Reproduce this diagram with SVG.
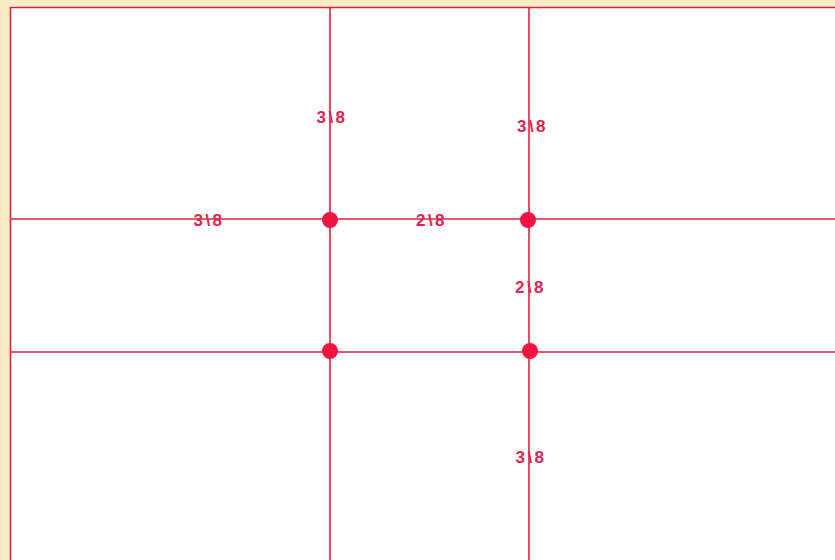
<svg xmlns="http://www.w3.org/2000/svg" width="835" height="560" viewBox="0 0 835 560">
<style>
.ln{stroke:#e3203a;stroke-width:1.6;fill:none}
.dot{fill:#ee1543}
.lb{font-family:"Liberation Sans",Arial,sans-serif;font-size:17px;font-weight:bold;fill:#e0244f;text-anchor:middle;letter-spacing:2.5px}
</style>
<rect x="0" y="0" width="835" height="560" fill="#fcecc6"/>
<rect x="10" y="7" width="830" height="560" fill="#ffffff"/>
<g id="connectors">
<path class="ln" d="M10.5 560 V7.5 H835"/>
<path class="ln" d="M330 7 V560"/>
<path class="ln" d="M529 7 V560"/>
<path class="ln" d="M10 219 H835"/>
<path class="ln" d="M10 352 H835"/>
</g>
<g id="p1"><circle class="dot" cx="330" cy="220" r="8"/></g>
<g id="p2"><circle class="dot" cx="528" cy="220" r="8"/></g>
<g id="p3"><circle class="dot" cx="330" cy="351" r="8"/></g>
<g id="p4"><circle class="dot" cx="530" cy="351" r="8"/></g>
<g id="labels">
<text class="lb" x="332" y="123">3\8</text>
<text class="lb" x="532.5" y="132">3\8</text>
<text class="lb" x="209" y="226">3\8</text>
<text class="lb" x="431.5" y="226">2\8</text>
<text class="lb" x="530.5" y="293">2\8</text>
<text class="lb" x="531" y="463">3\8</text>
</g>
</svg>
